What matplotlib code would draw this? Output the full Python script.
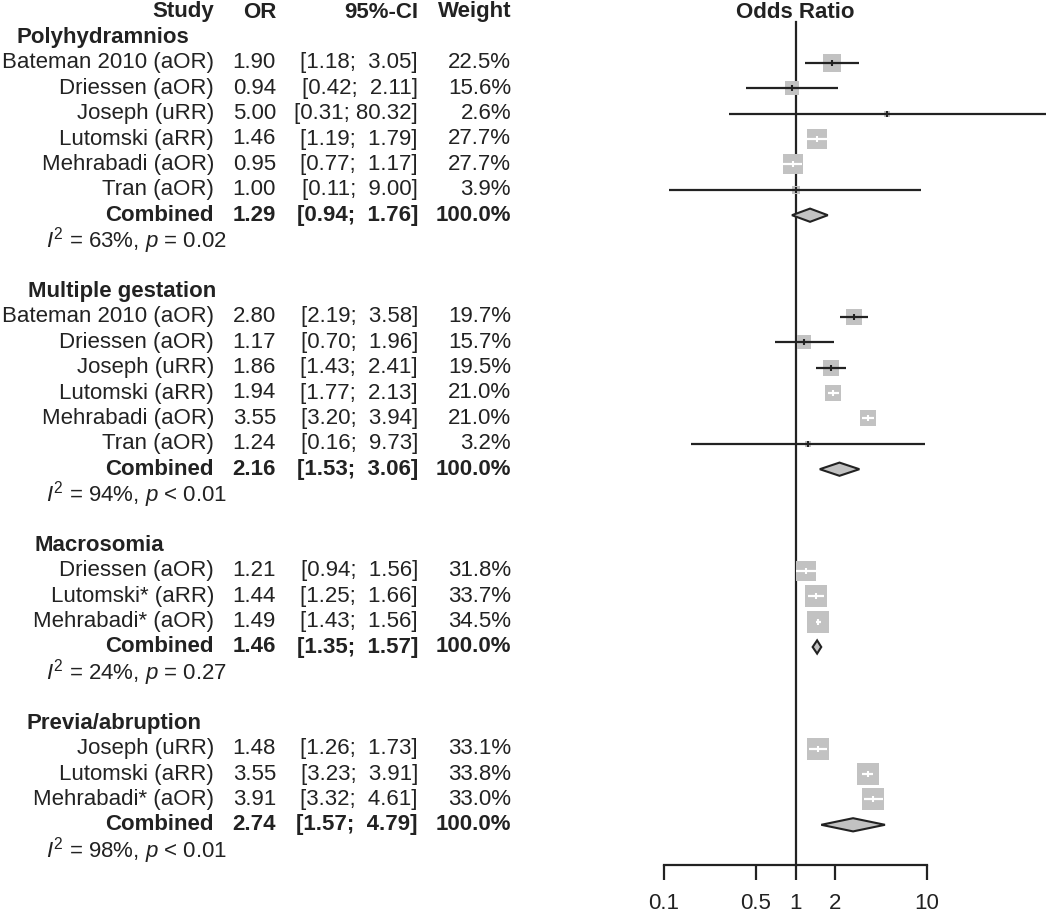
import numpy as np
import matplotlib
matplotlib.use('Agg')
import matplotlib.pyplot as plt
from matplotlib.transforms import blended_transform_factory
from matplotlib.patches import Polygon

plt.rcParams['font.family'] = ['Liberation Sans', 'DejaVu Sans']
plt.rcParams['mathtext.fontset'] = 'custom'
plt.rcParams['mathtext.rm'] = 'Liberation Sans'
plt.rcParams['mathtext.it'] = 'Liberation Sans:italic'

# --- data ---
group_names = ["Polyhydramnios", "Multiple gestation", "Macrosomia", "Previa/abruption"]

poly_names = ["Bateman 2010 (aOR)", "Driessen (aOR)", "Joseph (uRR)", "Lutomski (aRR)", "Mehrabadi (aOR)", "Tran (aOR)"]
poly_or = [1.90, 0.94, 5.00, 1.46, 0.95, 1.00]
poly_lo = [1.18, 0.42, 0.31, 1.19, 0.77, 0.11]
poly_hi = [3.05, 2.11, 80.32, 1.79, 1.17, 9.00]
poly_w = [22.5, 15.6, 2.6, 27.7, 27.7, 3.9]
poly_comb = [1.29, 0.94, 1.76]
poly_het = [63, "=", "0.02"]

multi_names = ["Bateman 2010 (aOR)", "Driessen (aOR)", "Joseph (uRR)", "Lutomski (aRR)", "Mehrabadi (aOR)", "Tran (aOR)"]
multi_or = [2.80, 1.17, 1.86, 1.94, 3.55, 1.24]
multi_lo = [2.19, 0.70, 1.43, 1.77, 3.20, 0.16]
multi_hi = [3.58, 1.96, 2.41, 2.13, 3.94, 9.73]
multi_w = [19.7, 15.7, 19.5, 21.0, 21.0, 3.2]
multi_comb = [2.16, 1.53, 3.06]
multi_het = [94, "<", "0.01"]

macro_names = ["Driessen (aOR)", "Lutomski* (aRR)", "Mehrabadi* (aOR)"]
macro_or = [1.21, 1.44, 1.49]
macro_lo = [0.94, 1.25, 1.43]
macro_hi = [1.56, 1.66, 1.56]
macro_w = [31.8, 33.7, 34.5]
macro_comb = [1.46, 1.35, 1.57]
macro_het = [24, "=", "0.27"]

prev_names = ["Joseph (uRR)", "Lutomski (aRR)", "Mehrabadi* (aOR)"]
prev_or = [1.48, 3.55, 3.91]
prev_lo = [1.26, 3.23, 3.32]
prev_hi = [1.73, 3.91, 4.61]
prev_w = [33.1, 33.8, 33.0]
prev_comb = [2.74, 1.57, 4.79]
prev_het = [98, "<", "0.01"]

tick_vals = [0.1, 0.5, 1, 2, 10]
tick_labels = ["0.1", "0.5", "1", "2", "10"]

groups = [
    (poly_names, poly_or, poly_lo, poly_hi, poly_w, poly_comb, poly_het),
    (multi_names, multi_or, multi_lo, multi_hi, multi_w, multi_comb, multi_het),
    (macro_names, macro_or, macro_lo, macro_hi, macro_w, macro_comb, macro_het),
    (prev_names, prev_or, prev_lo, prev_hi, prev_w, prev_comb, prev_het),
]

# --- layout (pixels of a 1050 x 917 figure) ---
W, H = 1050, 917
row0_px, row_px = 12, 25.4
ax_left_px = 664
px_per_dec = 131.5
axis_row = (865 - row0_px) / row_px
group_x = [17, 28, 35, 26]
ink = '#222222'
box_grey = '#c2c2c2'
fs = 16

fig = plt.figure(figsize=(W / 100, H / 100), dpi=100)
ax = fig.add_axes([ax_left_px / W, 0, (W - ax_left_px) / W, 1])
ax.set_xscale('log')
ax.set_xlim(0.1, 10 ** (-1 + (W - ax_left_px) / px_per_dec))
ax.set_ylim((H - row0_px) / row_px, -row0_px / row_px)
ax.patch.set_visible(False)

tr = blended_transform_factory(fig.transFigure, ax.transData)


def txt(xpx, row, s, ha='right', bold=False):
    fig.text(xpx / W, row, s, transform=tr, ha=ha, va='center', fontsize=fs,
             color=ink, fontweight='bold' if bold else 'normal')


# header
txt(214, 0, "Study", bold=True)
txt(276, 0, "OR", bold=True)
txt(418, 0, "95%-CI", bold=True)
txt(511, 0, "Weight", bold=True)
ax.text(1, 0, "Odds Ratio", ha='center', va='center', fontsize=fs, fontweight='bold', color=ink)

row = 1
for gi, (names, ors, los, his, ws, comb, het) in enumerate(groups):
    txt(group_x[gi], row, group_names[gi], ha='left', bold=True)
    row += 1
    for name, o, lo, hi, w in zip(names, ors, los, his, ws):
        txt(214, row, name)
        txt(276, row, f"{o:.2f}")
        txt(418, row, f"[{lo:.2f}; {hi:5.2f}]")
        txt(511, row, f"{w:.1f}%")

        side_px = 3.7 * np.sqrt(w)
        ci_px = (np.log10(hi) - np.log10(lo)) * px_per_dec
        ax.scatter([o], [row], marker='s', s=(side_px * 0.72) ** 2, color=box_grey,
                   linewidths=0, zorder=3)
        if ci_px < 1.5 * side_px:
            # CI (nearly) inside the box: drawn in white
            hd = side_px / 2 / px_per_dec
            seg = [max(lo, o * 10 ** -hd), min(hi, o * 10 ** hd)]
            ax.plot(seg, [row, row], color='white', lw=1.6, solid_capstyle='butt', zorder=4)
            ax.plot([o], [row], marker='|', ms=5, mew=1.5, color='white', zorder=4)
        else:
            ax.plot([lo, hi], [row, row], color=ink, lw=1.6, solid_capstyle='butt', zorder=4)
            ax.plot([o], [row], marker='|', ms=5, mew=1.5, color=ink, zorder=4)
        row += 1

    est, clo, chi = comb
    txt(214, row, "Combined", bold=True)
    txt(276, row, f"{est:.2f}", bold=True)
    txt(418, row, f"[{clo:.2f}; {chi:5.2f}]", bold=True)
    txt(511, row, "100.0%", bold=True)
    hh = 0.26
    ax.add_patch(Polygon([(clo, row), (est, row - hh), (chi, row), (est, row + hh)],
                         closed=True, facecolor=box_grey, edgecolor=ink, lw=1.5, zorder=4))
    row += 1

    i2, op, pv = het
    txt(46, row, rf"$I^2$ = {i2}%, $p$ {op} {pv}", ha='left')
    row += 2

# reference line at OR = 1
ax.plot([1, 1], [(22 - row0_px) / row_px, axis_row], color=ink, lw=1.6, zorder=1)

# bottom axis only
for s in ['top', 'left', 'right']:
    ax.spines[s].set_visible(False)
ax.spines['bottom'].set_position(('data', axis_row))
ax.spines['bottom'].set_bounds(0.1, 10)
ax.spines['bottom'].set_linewidth(1.6)
ax.spines['bottom'].set_color(ink)
ax.set_xticks(tick_vals)
ax.set_xticklabels(tick_labels)
ax.xaxis.set_minor_locator(matplotlib.ticker.NullLocator())
ax.tick_params(axis='x', direction='out', length=11, width=1.6, color=ink,
               labelsize=fs, labelcolor=ink, pad=9)
ax.set_yticks([])

fig.savefig('out.png', dpi=100)
